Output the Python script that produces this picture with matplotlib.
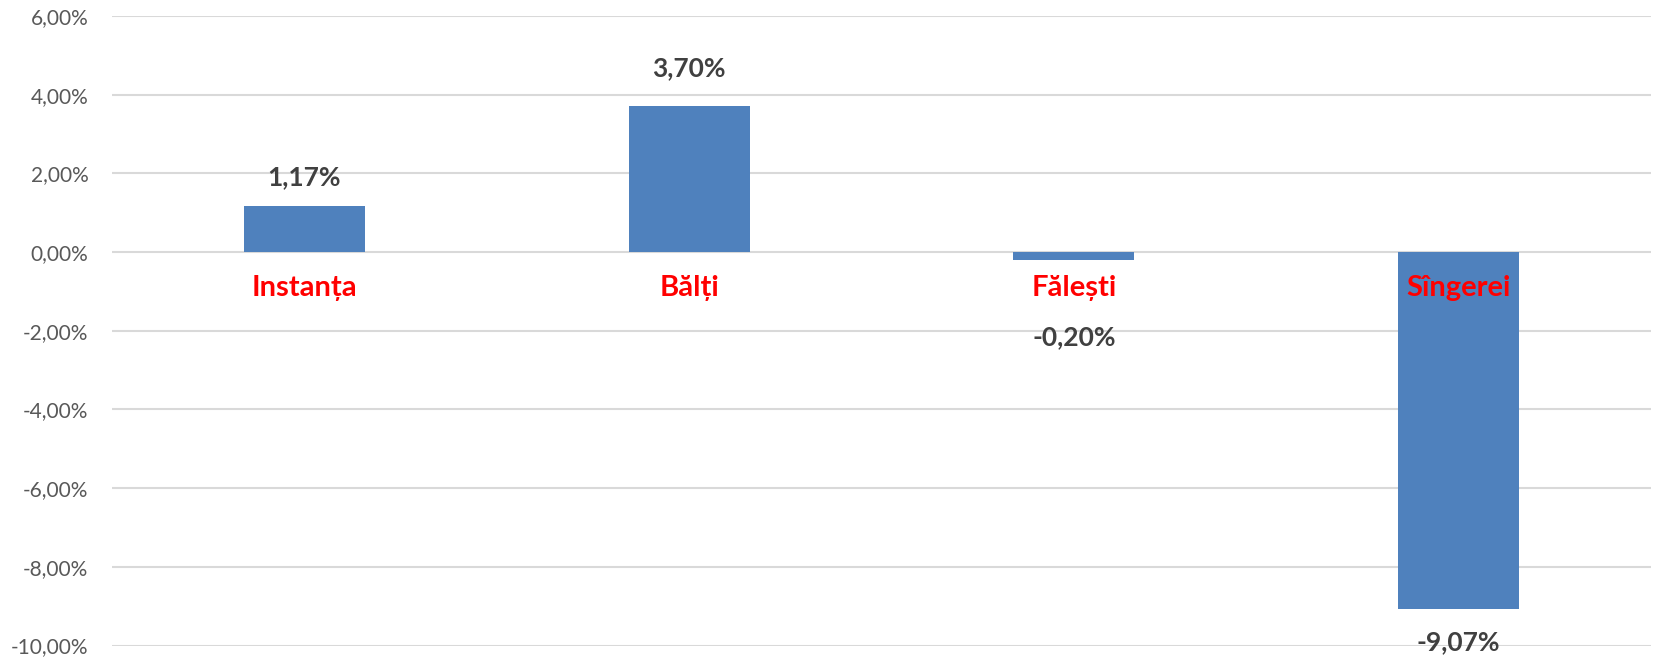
import matplotlib
matplotlib.use("Agg")
import matplotlib.pyplot as plt
from matplotlib.ticker import FuncFormatter

# Data
categories = ["Instanța", "Bălți", "Fălești", "Sîngerei"]
values = [1.17, 3.70, -0.20, -9.07]
value_labels = ["1,17%", "3,70%", "-0,20%", "-9,07%"]

plt.rcParams["font.family"] = ["Lato", "DejaVu Sans"]

fig = plt.figure(figsize=(16.56, 6.57), dpi=100)
ax = fig.add_axes([112 / 1656, 1 - 645.5 / 657, (1651 - 112) / 1656, (645.5 - 16) / 657])

x = list(range(len(categories)))
ax.bar(x, values, width=0.315, color="#4f81bd", zorder=3)

ax.set_xlim(-0.5, len(categories) - 0.5)
ax.set_ylim(-10, 6)
ax.set_yticks(range(-10, 7, 2))
ax.yaxis.set_major_formatter(FuncFormatter(lambda v, p: f"{v:.2f}%".replace(".", ",")))
ax.tick_params(axis="y", length=0, pad=17, labelsize=15, labelcolor="#595959")
ax.set_xticks([])
ax.grid(axis="y", color="#d9d9d9", linewidth=1.5, zorder=0)
for s in ax.spines.values():
    s.set_visible(False)

# pixels per data unit, to keep negative labels clear of the category names
px_per_unit = (645.5 - 16) / 16

# Value labels
for xi, v, lab in zip(x, values, value_labels):
    if v >= 0:
        off = 24 + 3.8 * v
    else:
        off = -max(33, 85 - abs(v) * px_per_unit)
    ax.annotate(lab, (xi, v), xytext=(0, off), textcoords="offset pixels",
                ha="center", va="center", fontsize=19, fontweight="bold", color="#404040")

# Category names just under the zero line
for xi, name in zip(x, categories):
    ax.annotate(name, (xi, 0), xytext=(0, -36), textcoords="offset pixels",
                ha="center", va="center", fontsize=21, fontweight="bold", color="#ff0000")

fig.savefig("out.png", dpi=100)
